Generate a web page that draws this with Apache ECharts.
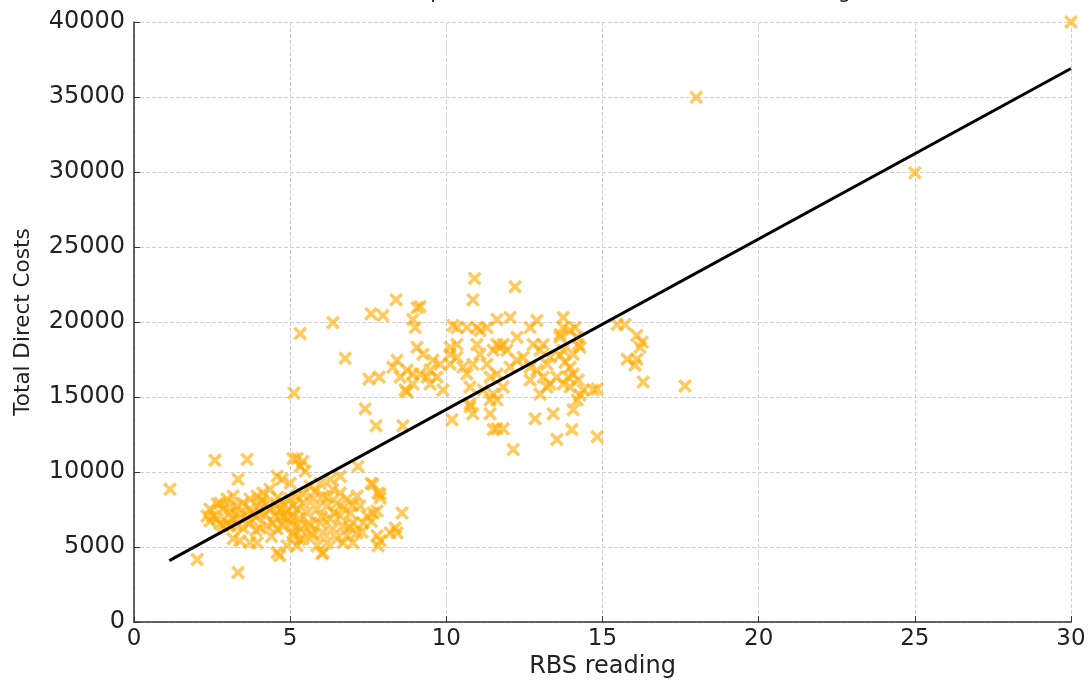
<!DOCTYPE html>
<html>
<head>
<meta charset="utf-8">
<script src="https://cdn.jsdelivr.net/npm/echarts@6/dist/echarts.min.js"></script>
<style>
  html, body { margin: 0; padding: 0; background: #fff; }
  #chart { width: 1090px; height: 684px; }
</style>
</head>
<body>
<div id="chart"></div>
<script>
// RBS reading (x) and total direct costs (y)
const rbsReading = [
  1.15, 2.02, 3.33, 2.59, 3.62, 3.33, 4.58, 4.74, 5.0, 5.09,
  3.17, 2.98, 2.75, 2.66, 2.43, 2.85, 3.07, 3.3, 3.49, 3.71,
  3.94, 4.13, 4.26, 4.35, 4.03, 3.71, 3.39, 3.07, 2.53, 2.34,
  2.43, 2.66, 2.75, 2.98, 3.17, 3.39, 3.62, 3.81, 4.03, 4.35,
  4.58, 4.77, 5.0, 5.22, 5.09, 4.9, 4.67, 4.45, 4.26, 4.03,
  3.71, 3.49, 3.3, 3.07, 2.85, 3.17, 3.39, 3.71, 3.94, 4.58,
  4.67, 4.9, 5.09, 5.22, 5.0, 4.77, 4.58, 5.22, 5.41, 5.32,
  5.48, 7.17, 7.65, 7.81, 7.88, 8.58, 7.78, 7.65, 8.36, 8.42,
  7.78, 7.88, 7.81, 6.05, 5.64, 5.96, 6.28, 6.6, 6.37, 6.05,
  5.73, 5.41, 5.22, 5.09, 5.54, 5.86, 6.18, 6.5, 6.82, 7.14,
  7.24, 6.92, 6.6, 6.28, 5.96, 5.64, 5.32, 5.09, 5.41, 5.73,
  6.05, 6.37, 6.69, 7.01, 7.33, 7.46, 7.14, 6.82, 6.5, 6.18,
  5.86, 5.22, 6.69, 7.01, 6.02,
  3.9, 4.2, 4.5, 4.8, 4.9, 5.3, 5.6, 6.0, 6.4, 6.7,
  7.0, 4.1, 4.6, 5.4, 5.8, 6.2, 6.6, 7.59, 7.88, 8.2,
  5.3, 5.7, 4.4, 3.9, 6.9, 7.3, 7.6, 4.7,
  13.74, 13.96, 14.12, 13.64, 14.19, 14.22, 14.28, 13.74, 13.64, 14.06,
  13.8, 13.96, 14.06, 13.9, 14.22, 13.96, 14.38, 14.28, 14.19, 13.74,
  11.62, 11.72, 11.82, 11.5, 11.94, 12.26, 12.68, 12.9, 12.04, 11.62,
  11.3, 11.08, 10.98, 11.08, 11.3, 11.4, 11.62, 12.04, 12.26, 12.46,
  12.68, 12.9, 13.1, 12.68, 13.22, 13.0, 13.32, 13.54, 13.32, 13.74,
  13.64, 13.1, 12.78, 13.0, 13.22, 10.34, 10.34, 10.53, 10.66, 10.76,
  10.85, 10.12, 10.12, 10.12, 9.8, 9.57, 9.48, 9.7, 9.38, 9.16,
  9.25, 9.06, 8.93, 8.74, 8.42, 8.29, 8.52, 8.68, 8.93, 9.48,
  9.89, 10.21, 10.34, 10.66, 10.76, 11.18, 11.5, 11.82, 11.4, 11.62,
  10.9, 10.85, 12.2, 8.39, 9.16, 9.06, 7.59, 7.97, 6.37, 5.32,
  8.93, 9.0, 10.98, 6.76, 7.52, 7.85, 8.74, 7.4, 7.75, 8.61,
  10.18, 10.76, 10.85, 11.4, 11.5, 11.62, 11.82, 12.14, 12.84, 13.42,
  13.54, 14.02, 14.06, 14.83, 14.83, 14.7, 15.47, 15.72, 16.1, 16.27,
  16.2, 15.79, 16.1, 16.04, 16.3, 5.12, 17.64, 18.0, 25.0, 30.0
];
const directCosts = [
  8860, 4170, 3310, 10780, 10840, 9520, 9720, 9520, 9260, 10910,
  8400, 8200, 7930, 7870, 7540, 7540, 7600, 7740, 7930, 8200,
  8400, 8600, 7930, 8860, 7870, 7540, 7270, 7270, 7075, 7075,
  6740, 6880, 6550, 6610, 6880, 6940, 7075, 7270, 7270, 7540,
  7740, 7930, 8200, 8400, 7740, 7400, 7075, 6610, 6414, 6280,
  6610, 6280, 6414, 6414, 6414, 5550, 5420, 5290, 5290, 4630,
  4430, 5090, 5750, 6414, 6610, 6414, 6215, 10910, 10710, 10380,
  10050, 10380, 9190, 8600, 8265, 7270, 7400, 7270, 6280, 5950,
  5750, 5420, 5090, 4630, 9060, 9260, 9520, 9720, 8860, 8400,
  8200, 7930, 7540, 7075, 7270, 7540, 7740, 7930, 8200, 8400,
  7740, 7270, 7075, 6880, 6610, 6414, 6215, 5950, 5550, 5750,
  5950, 6215, 6414, 6610, 6610, 7075, 5950, 5750, 5550, 5290,
  5090, 5090, 5290, 5290, 4560,
  7000, 7200, 7100, 7000, 6900, 6900, 6600, 7000, 7300, 7600,
  7800, 8100, 8300, 8500, 8700, 8300, 8600, 9260, 8530, 5950,
  5500, 5900, 5700, 6100, 6300, 6000, 6700, 7500,
  19640, 19440, 19640, 19170, 18980, 18510, 18315, 18120, 17790, 17850,
  17320, 16990, 16530, 16330, 16130, 15670, 15470, 15140, 14810, 15870,
  18510, 18315, 18510, 18120, 18120, 18980, 19640, 20100, 20300, 20170,
  19640, 19440, 18510, 17850, 17190, 16330, 16530, 16990, 17460, 17650,
  16990, 16790, 16330, 16130, 15670, 15210, 15870, 16330, 17650, 20300,
  18980, 18510, 18510, 18120, 17190, 18510, 17650, 16990, 16530, 15670,
  17190, 18315, 17850, 17190, 17190, 17460, 16790, 16330, 16330, 16530,
  17850, 18315, 16530, 16790, 17460, 16990, 16330, 15470, 15870, 15870,
  15470, 19770, 19640, 19640, 14550, 15470, 15210, 15670, 14810, 14810,
  22900, 21490, 22350, 21490, 21030, 20960, 20560, 20430, 19970, 19240,
  20170, 19640, 19640, 17590, 16200, 16330, 15340, 14220, 13090, 13090,
  13490, 14350, 13890, 13890, 12830, 12890, 12890, 11500, 13560, 13890,
  12170, 12830, 14150, 12360, 15540, 15470, 19840, 19840, 19110, 18650,
  18315, 17520, 17520, 17130, 16000, 15270, 15740, 34980, 29950, 40000
];
// fitted line, two ends as seen in the picture
const lineX = [1.13, 30];
const lineY = [4100, 36900];

const xTicks = [0, 5, 10, 15, 20, 25, 30];
const yTicks = [0, 5000, 10000, 15000, 20000, 25000, 30000, 35000, 40000];

const chart = echarts.init(document.getElementById('chart'), null, {renderer: 'canvas'});

const points = rbsReading.map((x, i) => [x, directCosts[i]]);
const linePts = lineX.map((x, i) => [x, lineY[i]]);

const crossPath = 'path://M0,1.8L1.8,0L5,3.2L8.2,0L10,1.8L6.8,5L10,8.2L8.2,10L5,6.8L1.8,10L0,8.2L3.2,5Z';
const font = 'DejaVu Sans';

let option = {
  animation: false,
  backgroundColor: '#fff',
  // title sits mostly above the canvas, only the descenders show
  title: {
    text: 'Scatter plot of Total Direct Costs vs RBS Reading',
    left: 344,
    top: -23,
    textStyle: {
      fontFamily: font,
      fontSize: 20.7,
      fontWeight: 'normal',
      color: '#222'
    }
  },
  grid: {
    left: 134,
    right: 19,
    top: 22,
    bottom: 57
  },
  xAxis: {
    type: 'value',
    min: xTicks[0],
    max: xTicks[xTicks.length - 1],
    interval: 5,
    name: 'RBS reading',
    nameLocation: 'middle',
    nameGap: 29,
    nameTextStyle: {fontFamily: font, fontSize: 24, color: '#222'},
    axisLine: {show: true, lineStyle: {color: '#333', width: 1.5}},
    axisTick: {show: true, inside: true, length: 6, lineStyle: {color: '#333'}},
    axisLabel: {fontFamily: font, fontSize: 23, color: '#222', margin: 5},
    splitLine: {show: true, lineStyle: {type: 'dashed', color: '#d0d0d0', width: 1}}
  },
  yAxis: {
    type: 'value',
    min: yTicks[0],
    max: yTicks[yTicks.length - 1],
    interval: 5000,
    name: 'Total Direct Costs',
    nameLocation: 'middle',
    nameGap: 100,
    nameTextStyle: {fontFamily: font, fontSize: 21.5, color: '#222'},
    axisLine: {show: true, lineStyle: {color: '#333', width: 1.5}},
    axisTick: {show: true, inside: true, length: 6, lineStyle: {color: '#333'}},
    axisLabel: {
      fontFamily: font, fontSize: 24, color: '#222', margin: 9,
      formatter: v => String(v)
    },
    splitLine: {show: true, lineStyle: {type: 'dashed', color: '#d0d0d0', width: 1}}
  },
  series: [
    {
      type: 'scatter',
      data: points,
      symbol: crossPath,
      symbolSize: 14,
      itemStyle: {color: 'rgba(255,170,0,0.78)'},
      clip: false
    },
    {
      type: 'line',
      data: linePts,
      showSymbol: false,
      lineStyle: {color: '#000', width: 3},
      z: 5
    }
  ]
};
chart.setOption(option);
</script>
</body>
</html>
